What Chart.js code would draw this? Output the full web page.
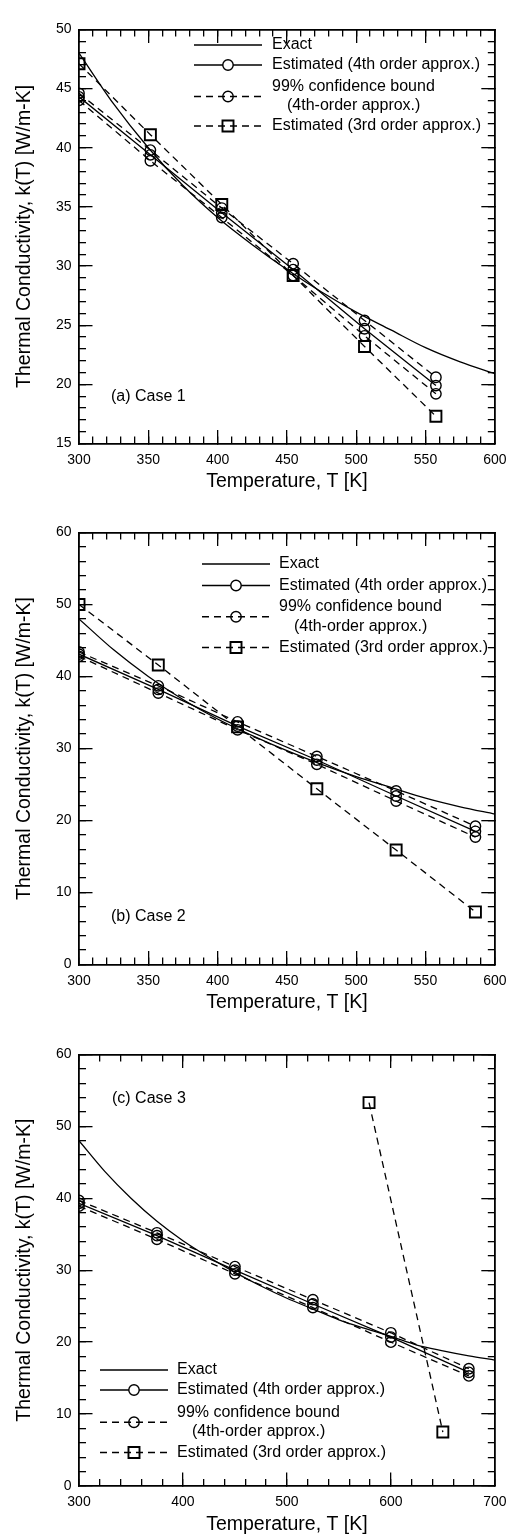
<!DOCTYPE html>
<html><head><meta charset="utf-8">
<script src="https://cdn.jsdelivr.net/npm/chart.js@4/dist/chart.umd.min.js"></script>
<style>
html,body{margin:0;padding:0;background:#fff;}
body{width:528px;height:1537px;position:relative;overflow:hidden;}
canvas{position:absolute;left:0;}
</style></head><body>
<canvas id="c1" width="528" height="500" style="top:0px"></canvas>
<canvas id="c2" width="528" height="525" style="top:500px"></canvas>
<canvas id="c3" width="528" height="512" style="top:1025px"></canvas>
<script>
// ---------- data ----------
const exactT = [300,325,350,375,400,425,450,475,500,525,550,575,600];
const exactK = [48.0,43.7,40.0,36.8,34.1,31.8,29.7,27.8,26.1,24.6,23.1,21.9,20.9];
const exactT3 = [300,325,350,375,400,425,450,475,500,525,550,575,600,625,650,675,700];
const exactK3 = [48.0,43.7,40.0,36.8,34.1,31.8,29.7,27.8,26.1,24.6,23.1,21.9,20.8,19.6,18.8,18.1,17.5];

// Case 1
const T1 = [300,351.5,403,454.5,506,557.5];
const k4_1 = [44.3,39.4,34.5,29.7,24.7,19.9];
const kUp_1 = [44.6,39.8,34.9,30.2,25.4,20.6];
const kLo_1 = [44.0,38.9,34.1,29.2,24.1,19.2];
const k3_1 = [47.1,41.1,35.2,29.2,23.2,17.3];
// Case 2
const T2 = [300,357.2,414.4,471.6,528.8,586];
const k4_2 = [43.1,38.2,33.1,28.4,23.4,18.5];
const kUp_2 = [43.4,38.7,33.7,28.9,24.1,19.2];
const kLo_2 = [42.8,37.7,32.6,27.8,22.7,17.7];
const k3_2 = [50.0,41.6,33.0,24.4,15.9,7.3];
// Case 3
const T3 = [300,375,450,525,600,675];
const k4_3 = [39.3,34.8,30.0,25.3,20.7,15.8];
const kUp_3 = [39.7,35.2,30.5,25.9,21.3,16.3];
const kLo_3 = [38.9,34.3,29.5,24.8,20.0,15.3];
const T3sq = [579,650];
const k3_3 = [53.3,7.5];

// tick labels
const xTicks1 = [300,350,400,450,500,550,600];
const yTicks1 = [15,20,25,30,35,40,45,50];
const xTicks2 = [300,350,400,450,500,550,600];
const yTicks2 = [0,10,20,30,40,50,60];
const xTicks3 = [300,400,500,600,700];
const yTicks3 = [0,10,20,30,40,50,60];

const legendLabels = ['Exact','Estimated (4th order approx.)','99% confidence bound','(4th-order approx.)','Estimated (3rd order approx.)'];
const xTitle = 'Temperature, T [K]';
const yTitle = 'Thermal Conductivity, k(T) [W/m-K]';

// ---------- styling ----------
const FONT = "'Liberation Sans', Arial, Helvetica, sans-serif";
Chart.defaults.font.family = FONT;
Chart.defaults.color = '#000';
const DASH = [7,5];
const CR = 5.2, CBW = 1.4, SR = 7.8, SBW = 1.9;

function pts(xs, ys){ return xs.map((x,i)=>({x:x, y:ys[i]})); }

function sets(exT, exK, T, k4, kUp, kLo, T3rd, k3){
  const base = {showLine:true, borderColor:'#000', borderWidth:1.3, pointBorderColor:'#000',
                pointBackgroundColor:'rgba(0,0,0,0)', fill:false, xAxisID:'x', yAxisID:'y'};
  return [
    Object.assign({}, base, {data:pts(exT,exK), pointRadius:0, tension:0.4, cubicInterpolationMode:'monotone'}),
    Object.assign({}, base, {data:pts(T,k4), pointStyle:'circle', pointRadius:CR, pointBorderWidth:CBW}),
    Object.assign({}, base, {data:pts(T,kUp), borderDash:DASH, pointStyle:'circle', pointRadius:CR, pointBorderWidth:CBW}),
    Object.assign({}, base, {data:pts(T,kLo), borderDash:DASH, pointStyle:'circle', pointRadius:CR, pointBorderWidth:CBW}),
    Object.assign({}, base, {data:pts(T3rd,k3), borderDash:DASH, pointStyle:'rect', pointRadius:SR, pointBorderWidth:SBW})
  ];
}

const overlay = {
  id:'overlay',
  afterDraw(chart, args, o){
    const ctx = chart.ctx;
    ctx.save();
    ctx.font = '16px ' + FONT;
    ctx.textBaseline = 'middle';
    ctx.textAlign = 'left';
    const L = o.legend;
    const mid = (L.x0 + L.x1)/2;
    L.items.forEach(it=>{
      ctx.strokeStyle = '#000'; ctx.lineWidth = 1.3;
      ctx.setLineDash(it.dash);
      ctx.beginPath(); ctx.moveTo(L.x0, it.sy); ctx.lineTo(L.x1, it.sy); ctx.stroke();
      ctx.setLineDash([]);
      if (it.marker){
        ctx.fillStyle = it.fill; ctx.lineWidth = it.bw;
        Chart.helpers.drawPoint(ctx, {pointStyle:it.marker, radius:it.r, borderWidth:it.bw, rotation:0}, mid, it.sy);
      }
      ctx.fillStyle = '#000';
      it.lines.forEach(l=>ctx.fillText(l.t, L.tx + (l.dx||0), l.y));
    });
    ctx.font = '16px ' + FONT;
    ctx.fillText(o.caseText, o.caseX, o.caseY);
    ctx.restore();
  }
};

function legendItems(y){
  // y: [exact, est4, conf line1, conf line2, est3]
  return [
    {lines:[{t:legendLabels[0], y:y[0]}], sy:y[0], dash:[], marker:null},
    {lines:[{t:legendLabels[1], y:y[1]}], sy:y[1], dash:[], marker:'circle', r:CR, bw:CBW, fill:'#fff'},
    {lines:[{t:legendLabels[2], y:y[2]},{t:legendLabels[3], y:y[3], dx:15}], sy:(y[2]+y[3])/2, dash:DASH, marker:'circle', r:CR, bw:CBW, fill:'rgba(0,0,0,0)'},
    {lines:[{t:legendLabels[4], y:y[4]}], sy:y[4], dash:DASH, marker:'rect', r:SR, bw:SBW, fill:'rgba(0,0,0,0)'}
  ];
}

function makeChart(id, P){
  const LEFT = 79, RIGHT = 512, MAJ = -13.5, MIN = -7;
  const H = P.H;
  const grid = (major)=>({display:true, drawOnChartArea:false, drawTicks:true, tickLength: major?MAJ:MIN,
                          color:'#000', tickColor:'#000', lineWidth:1.3, tickWidth:1.3});
  const fixTicks = (arr)=> (s=>{ s.ticks = arr.map(v=>({value:v})); });
  const tfont = {size:19.5, family:FONT};
  const scales = {
    x: {type:'linear', position:'bottom', min:P.xMin, max:P.xMax, weight:1, grid:grid(true),
        border:{display:true, color:'#000', width:1.8},
        ticks:{display:true, autoSkip:false, maxRotation:0, padding:21.5, font:{size:14}, color:'#000'},
        title:{display:true, text:xTitle, font:tfont, color:'#000', padding:{top:0,bottom:H - P.bottom - 38.5 - 11.7}},
        afterBuildTicks: fixTicks(P.xTicks),
        afterFit: s=>{ s.height = H - P.bottom; }},
    xMinor: {type:'linear', position:'bottom', min:P.xMin, max:P.xMax, weight:0, grid:grid(false),
        border:{display:false}, ticks:{display:false, stepSize:P.xMinorStep},
        afterFit: s=>{ s.height = 0; }},
    xTop: {type:'linear', position:'top', min:P.xMin, max:P.xMax, weight:1, grid:grid(true),
        border:{display:true, color:'#000', width:1.8}, ticks:{display:false},
        afterBuildTicks: fixTicks(P.xTicks), afterFit: s=>{ s.height = 0; }},
    xTopMinor: {type:'linear', position:'top', min:P.xMin, max:P.xMax, weight:0, grid:grid(false),
        border:{display:false}, ticks:{display:false, stepSize:P.xMinorStep},
        afterFit: s=>{ s.height = 0; }},
    y: {type:'linear', position:'left', min:P.yMin, max:P.yMax, weight:1, grid:grid(true),
        border:{display:true, color:'#000', width:1.8},
        ticks:{display:true, autoSkip:false, padding:21, font:{size:14}, color:'#000'},
        title:{display:true, text:yTitle, font:tfont, color:'#000', padding:{top:13, bottom:0}},
        afterBuildTicks: fixTicks(P.yTicks),
        afterFit: s=>{ s.width = LEFT; }},
    yMinor: {type:'linear', position:'left', min:P.yMin, max:P.yMax, weight:0, grid:grid(false),
        border:{display:false}, ticks:{display:false, stepSize:P.yMinorStep},
        afterFit: s=>{ s.width = 0; }},
    yRight: {type:'linear', position:'right', min:P.yMin, max:P.yMax, weight:1, grid:grid(true),
        border:{display:true, color:'#000', width:1.8}, ticks:{display:false},
        afterBuildTicks: fixTicks(P.yTicks), afterFit: s=>{ s.width = 0; }},
    yRightMinor: {type:'linear', position:'right', min:P.yMin, max:P.yMax, weight:0, grid:grid(false),
        border:{display:false}, ticks:{display:false, stepSize:P.yMinorStep},
        afterFit: s=>{ s.width = 0; }}
  };
  return new Chart(document.getElementById(id), {
    type:'scatter',
    data:{datasets:P.datasets},
    options:{
      responsive:false, animation:false, events:[],
      layout:{padding:{left:0, right:528-RIGHT, top:P.top, bottom:0}},
      scales: scales,
      plugins:{legend:{display:false}, tooltip:{enabled:false},
               overlay:{legend:P.legend, caseText:P.caseText, caseX:P.caseX, caseY:P.caseY}}
    },
    plugins:[overlay]
  });
}

makeChart('c1', {H:500, top:12.5, bottom:443.5, xMin:300, xMax:600, xTicks:xTicks1, xMinorStep:10,
  yMin:15, yMax:50, yTicks:yTicks1, yMinorStep:1,
  datasets: sets(exactT, exactK, T1, k4_1, kUp_1, kLo_1, T1, k3_1),
  legend:{x0:194, x1:262, tx:272, items:legendItems([45,65,87,106,126])},
  caseText:'(a) Case 1', caseX:111, caseY:397});

makeChart('c2', {H:525, top:32.5, bottom:464.5, xMin:300, xMax:600, xTicks:xTicks2, xMinorStep:10,
  yMin:0, yMax:60, yTicks:yTicks2, yMinorStep:2,
  datasets: sets(exactT, exactK, T2, k4_2, kUp_2, kLo_2, T2, k3_2),
  legend:{x0:202, x1:270, tx:279, items:legendItems([64,85.5,107,126.5,147.5])},
  caseText:'(b) Case 2', caseX:111, caseY:416.5});

makeChart('c3', {H:512, top:29, bottom:461, xMin:300, xMax:700, xTicks:xTicks3, xMinorStep:20,
  yMin:0, yMax:60, yTicks:yTicks3, yMinorStep:2,
  datasets: sets(exactT3, exactK3, T3, k4_3, kUp_3, kLo_3, T3sq, k3_3),
  legend:{x0:100, x1:168, tx:177, items:legendItems([345,365,388,406.5,427.5])},
  caseText:'(c) Case 3', caseX:112, caseY:74});
</script>
</body></html>
